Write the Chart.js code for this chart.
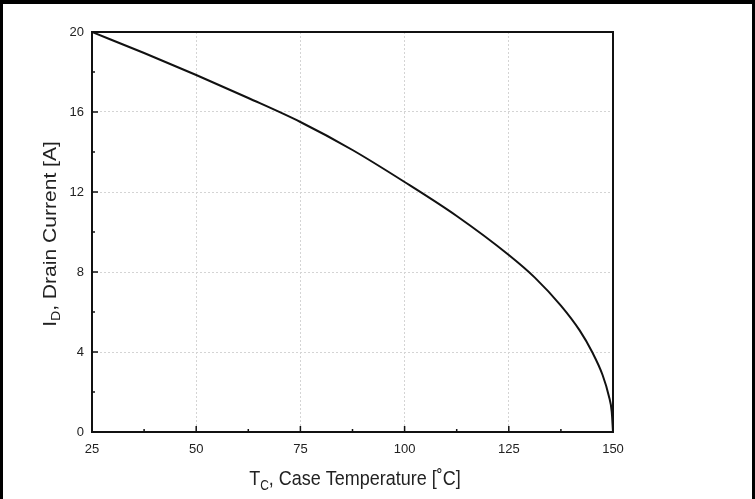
<!DOCTYPE html>
<html>
<head>
<meta charset="utf-8">
<script src="https://cdn.jsdelivr.net/npm/chart.js@4.4.1/dist/chart.umd.min.js"></script>
<style>
    html, body { margin: 0; padding: 0; background: #fff; }
    #wrap { width: 755px; height: 499px; position: relative; }
</style>
</head>
<body>
<div id="wrap"><canvas id="deratingChart" width="755" height="499"></canvas></div>
<script>
// Case temperature (°C) and drain current (A)
const caseTemp = [25, 37.5, 50, 62.5, 75, 87.5, 100, 112.5, 125, 131.25, 137.5, 142, 145, 147.5, 149, 149.7, 150];
const drainCurrent = [20.0, 18.95, 17.85, 16.7, 15.5, 14.1, 12.5, 10.8, 8.85, 7.72, 6.32, 5.08, 4.0, 2.85, 1.8, 1.0, 0];

const xTicks = [25, 50, 75, 100, 125, 150];
const yTicks = [0, 4, 8, 12, 16, 20];
const xMinorTicks = [37.5, 62.5, 87.5, 112.5, 137.5];
const yMinorTicks = [2, 6, 10, 14, 18];

const FONT = '"Liberation Sans", Arial, sans-serif';

// frame, inward ticks and axis titles with subscripts
const decorPlugin = {
    id: 'decor',
    afterDraw(chart) {
        const ctx = chart.ctx;
        const area = chart.chartArea;
        const xs = chart.scales.x;
        const ys = chart.scales.y;
        ctx.save();

        // picture frame
        ctx.fillStyle = '#000';
        ctx.fillRect(0, 0, chart.width, 4);
        ctx.fillRect(0, 0, 3, chart.height);
        ctx.fillRect(chart.width - 3, 0, 3, chart.height);

        // plot box
        ctx.strokeStyle = '#111';
        ctx.lineWidth = 2;
        ctx.strokeRect(area.left, area.top, area.right - area.left, area.bottom - area.top);

        // inward ticks
        ctx.lineWidth = 1.5;
        ctx.beginPath();
        xTicks.forEach(v => {
            const px = xs.getPixelForValue(v);
            ctx.moveTo(px, area.bottom);
            ctx.lineTo(px, area.bottom - 6);
        });
        xMinorTicks.forEach(v => {
            const px = xs.getPixelForValue(v);
            ctx.moveTo(px, area.bottom);
            ctx.lineTo(px, area.bottom - 3);
        });
        yTicks.forEach(v => {
            const py = ys.getPixelForValue(v);
            ctx.moveTo(area.left, py);
            ctx.lineTo(area.left + 6, py);
        });
        yMinorTicks.forEach(v => {
            const py = ys.getPixelForValue(v);
            ctx.moveTo(area.left, py);
            ctx.lineTo(area.left + 3, py);
        });
        ctx.stroke();

        // axis titles (text in the scan is slightly stretched vertically)
        ctx.fillStyle = '#222';
        ctx.textBaseline = 'alphabetic';
        const drawSubTitle = (main, sub, rest, cx, cy, rotate, sx, sy) => {
            ctx.save();
            ctx.translate(cx, cy);
            if (rotate) ctx.rotate(-Math.PI / 2);
            ctx.scale(sx, sy);
            ctx.font = '18px ' + FONT;
            const w1 = ctx.measureText(main).width;
            const w3 = ctx.measureText(rest).width;
            ctx.font = '12px ' + FONT;
            const w2 = ctx.measureText(sub).width;
            let x = -(w1 + w2 + w3) / 2;
            ctx.font = '18px ' + FONT;
            ctx.fillText(main, x, 0);
            x += w1;
            ctx.font = '12px ' + FONT;
            ctx.fillText(sub, x, 4);
            x += w2;
            ctx.font = '18px ' + FONT;
            ctx.fillText(rest, x, 0);
            ctx.restore();
        };
        drawSubTitle('T', 'C', ', Case Temperature [\u02DAC]', 355, 485, false, 1, 1.15);
        drawSubTitle('I', 'D', ', Drain Current [A]', 56, 234, true, 1.17, 1);

        ctx.restore();
    }
};

const data = {
    datasets: [{
        label: 'Drain Current',
        data: caseTemp.map((t, i) => ({ x: t, y: drainCurrent[i] })),
        borderColor: '#111',
        borderWidth: 2,
        pointRadius: 0,
        cubicInterpolationMode: 'monotone',
        fill: false
    }]
};

const config = {
    type: 'line',
    data: data,
    options: {
        responsive: false,
        animation: false,
        layout: { padding: { top: 32, right: 142, left: 0, bottom: 0 } },
        plugins: {
            legend: { display: false },
            tooltip: { enabled: false }
        },
        scales: {
            x: {
                type: 'linear',
                min: 25,
                max: 150,
                afterBuildTicks: scale => { scale.ticks = xTicks.map(v => ({ value: v })); },
                afterFit: scale => { scale.height = 67; },
                grid: { color: '#d4d4d4', lineWidth: 1, drawTicks: false },
                border: { display: false, dash: [2, 2] },
                ticks: { padding: 10, color: '#222', font: { family: FONT, size: 13 } }
            },
            y: {
                type: 'linear',
                min: 0,
                max: 20,
                afterBuildTicks: scale => { scale.ticks = yTicks.map(v => ({ value: v })); },
                afterFit: scale => { scale.width = 92; },
                grid: { color: '#d4d4d4', lineWidth: 1, drawTicks: false },
                border: { display: false, dash: [2, 2] },
                ticks: { padding: 8, color: '#222', font: { family: FONT, size: 13 } }
            }
        }
    },
    plugins: [decorPlugin]
};

const deratingChart = new Chart(document.getElementById('deratingChart'), config);
</script>
</body>
</html>
